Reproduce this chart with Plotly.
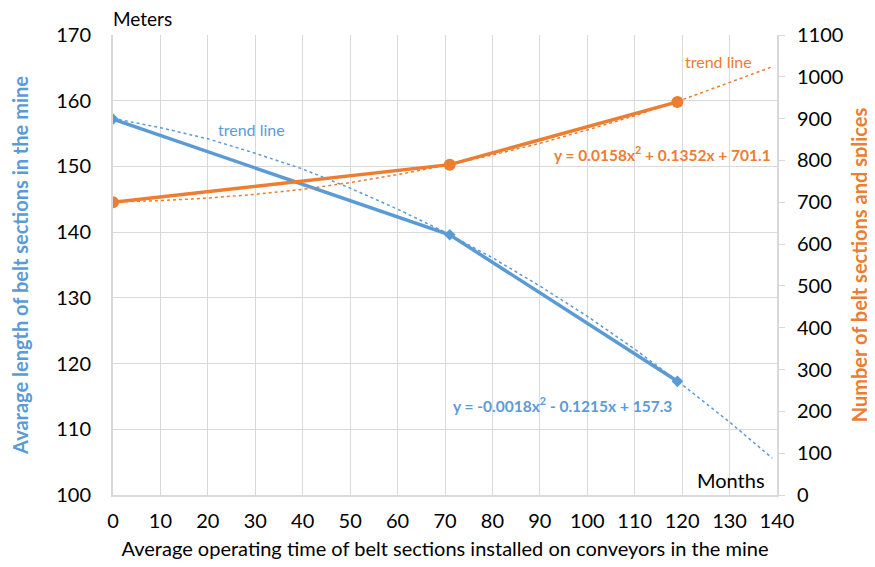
import plotly.graph_objects as go

# Data
months = [0, 71, 119]
avg_length = [157.2, 139.6, 117.3]
num_sections = [700, 790, 940]

trend_x = [0, 10, 20, 30, 40, 50, 60, 70, 80, 90, 100, 110, 120, 130, 139]
trend_length = [157.3, 155.9, 154.2, 152.0, 149.6, 146.7, 143.5, 140.0, 136.1, 131.8, 127.2, 122.2, 116.8, 111.1, 105.6]
trend_sections = [701, 704, 710, 719, 731, 747, 766, 788, 813, 841, 873, 907, 945, 986, 1024]

x_ticks = list(range(0, 141, 10))
left_ticks = list(range(100, 171, 10))
right_ticks = list(range(0, 1101, 100))

BLUE = "#5B9BD5"
ORANGE = "#ED7D31"
GRID = "#D9D9D9"
FONT = "Lato, Open Sans, sans-serif"
FS = 20

# page body offset (default 8px body margin)
OFF = 8
W, H = 875, 567
l, r, t, b = 113 - OFF, 98 + OFF, 35 - OFF, 72 + OFF

fig = go.Figure()
fig.add_trace(go.Scatter(x=trend_x, y=trend_length, mode="lines",
                         line=dict(color=BLUE, width=1.5, dash="dot"), yaxis="y", hoverinfo="skip"))
fig.add_trace(go.Scatter(x=trend_x, y=trend_sections, mode="lines",
                         line=dict(color=ORANGE, width=1.5, dash="dot"), yaxis="y2", hoverinfo="skip"))
fig.add_trace(go.Scatter(x=months, y=avg_length, mode="lines+markers",
                         line=dict(color=BLUE, width=3.5),
                         marker=dict(symbol="diamond", size=9, color=BLUE), yaxis="y"))
fig.add_trace(go.Scatter(x=months, y=num_sections, mode="lines+markers",
                         line=dict(color=ORANGE, width=3.5),
                         marker=dict(symbol="circle", size=12, color=ORANGE), yaxis="y2"))

fig.update_layout(
    width=W, height=H,
    margin=dict(l=l, r=r, t=t, b=b, autoexpand=False),
    paper_bgcolor="white", plot_bgcolor="white",
    showlegend=False,
    font=dict(family=FONT, size=FS, color="#000000"),
    xaxis=dict(range=[0, 140], tickvals=x_ticks, showgrid=True, gridcolor=GRID, gridwidth=1,
               zeroline=False, showline=True, linecolor=GRID, linewidth=2, automargin=False,
               ticks="", tickfont=dict(size=FS, color="#000"), ticklabelstandoff=7,
               title=dict(text="Average operating time of belt sections installed on conveyors in the mine",
                          font=dict(size=FS, color="#000"), standoff=11)),
    yaxis=dict(range=[100, 170], tickvals=left_ticks, showgrid=True, gridcolor=GRID, gridwidth=1,
               zeroline=False, showline=True, linecolor=GRID, linewidth=2, ticks="", automargin=False,
               tickfont=dict(size=FS, color="#000"), ticklabelstandoff=16,
               title=dict(text="<b>Avarage length of belt sections in the mine</b>",
                          font=dict(size=FS, color=BLUE), standoff=25)),
    yaxis2=dict(range=[0, 1100], tickvals=right_ticks, overlaying="y", side="right",
                showgrid=False, zeroline=False, showline=True, linecolor=GRID, linewidth=2,
                ticks="outside", ticklen=6, tickcolor=GRID, tickwidth=1, automargin=False,
                tickfont=dict(size=FS, color="#000"), ticklabelstandoff=8,
                title=dict(text="<b>Number of belt sections and splices</b>",
                           font=dict(size=FS, color=ORANGE), standoff=11)),
)

# annotation positions in screen pixels
annotations = [
    dict(text="Meters", x=111, y=18, size=19, anchor="left"),
    dict(text="Months", x=731, y=480, size=FS),
    dict(text="trend line", x=251, y=129, size=16, color=BLUE),
    dict(text="trend line", x=718, y=61, size=16, color=ORANGE),
    dict(text="<b>y = 0.0158x<sup>2</sup> + 0.1352x + 701.1</b>", x=662, y=154, size=15.5, color=ORANGE),
    dict(text="<b>y = -0.0018x<sup>2</sup> - 0.1215x + 157.3</b>", x=562, y=404, size=15.5, color=BLUE),
]
pw, ph = W - l - r, H - t - b
ann_out = []
for a in annotations:
    px, py = a["x"] - OFF, a["y"] - OFF
    ann_out.append(dict(text=a["text"], xref="paper", yref="paper",
                        x=(px - l) / pw, y=(H - b - py) / ph,
                        xanchor=a.get("anchor", "center"), yanchor="middle", showarrow=False,
                        font=dict(size=a["size"], color=a.get("color", "#000"))))
fig.update_layout(annotations=ann_out)

fig.write_html("out.html")
